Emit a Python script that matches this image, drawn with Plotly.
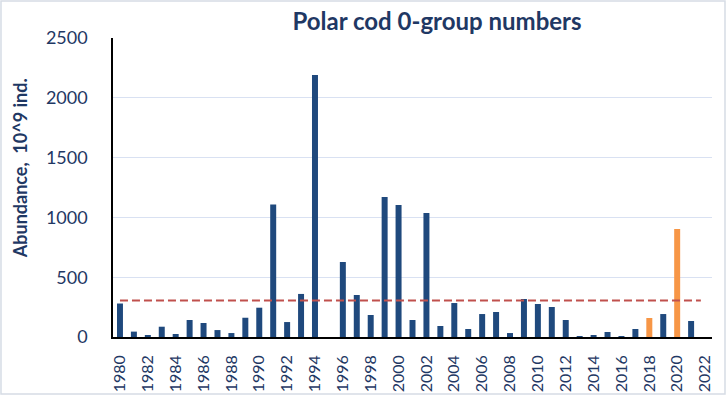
import plotly.graph_objects as go

years = list(range(1980, 2022))
values = [280, 45, 12, 86, 25, 142, 117, 58, 33, 161, 245, 1108, 125, 360, 2190, 0,
          627, 351, 184, 1171, 1104, 142, 1037, 92, 284, 67, 192, 209, 33, 318,
          276, 251, 142, 8, 17, 42, 8, 67, 159, 192, 903, 134]
highlight_years = [2018, 2020]
mean_value = 305
tick_years = list(range(1980, 2023, 2))

blue = "#1F497D"
orange = "#F79646"
colors = [orange if y in highlight_years else blue for y in years]

fig = go.Figure()
fig.add_trace(go.Bar(x=years, y=values, marker_color=colors, marker_line_width=0,
                     showlegend=False))
mean_x = [years[0], years[-1] + 0.7]
fig.add_trace(go.Scatter(x=mean_x, y=[mean_value] * len(mean_x), mode="lines",
                         line=dict(color="#C0504D", width=2, dash="8px,4px"),
                         showlegend=False, hoverinfo="skip"))

text_color = "#1F3864"
fig.update_layout(
    width=727, height=396,
    margin=dict(l=113, r=15, t=38, b=59),
    paper_bgcolor="white", plot_bgcolor="white",
    bargap=0.57,
    title=dict(text="<b>Polar cod 0-group numbers</b>", x=437 / 727, xref="container",
               xanchor="center", y=0.945, yanchor="middle",
               font=dict(family="Lato", size=24, color=text_color)),
    font=dict(family="Lato", color=text_color),
    xaxis=dict(range=[1979.5, 2022.5], tickmode="array", tickvals=tick_years,
               ticktext=[str(t) for t in tick_years], tickangle=-90,
               tickfont=dict(size=16, color=text_color), showgrid=False,
               showline=True, linecolor="black", linewidth=1.5, ticks="",
               zeroline=False, automargin=False, ticklabelstandoff=10),
    yaxis=dict(range=[0, 2500], dtick=500, tickfont=dict(size=18, color=text_color),
               showgrid=True, gridcolor="#D9E1F2", gridwidth=1,
               showline=True, linecolor="black", linewidth=1.5, zeroline=False,
               automargin=False, ticklabelstandoff=20),
    annotations=[dict(text="<b>Abundance,  10^9 ind.</b>", xref="paper", yref="paper",
                      x=-0.155, y=0.565, textangle=-90, showarrow=False,
                      xanchor="center", yanchor="middle",
                      font=dict(family="Lato", size=18, color=text_color))],
    shapes=[dict(type="rect", xref="paper", yref="paper", x0=-0.187, x1=1.0217,
                 y0=-0.1906, y1=1.1237, line=dict(color="#D6DCE5", width=1.5))],
)

fig.write_html("out.html", config={"displayModeBar": False},
               post_script="document.body.style.margin='0';")
